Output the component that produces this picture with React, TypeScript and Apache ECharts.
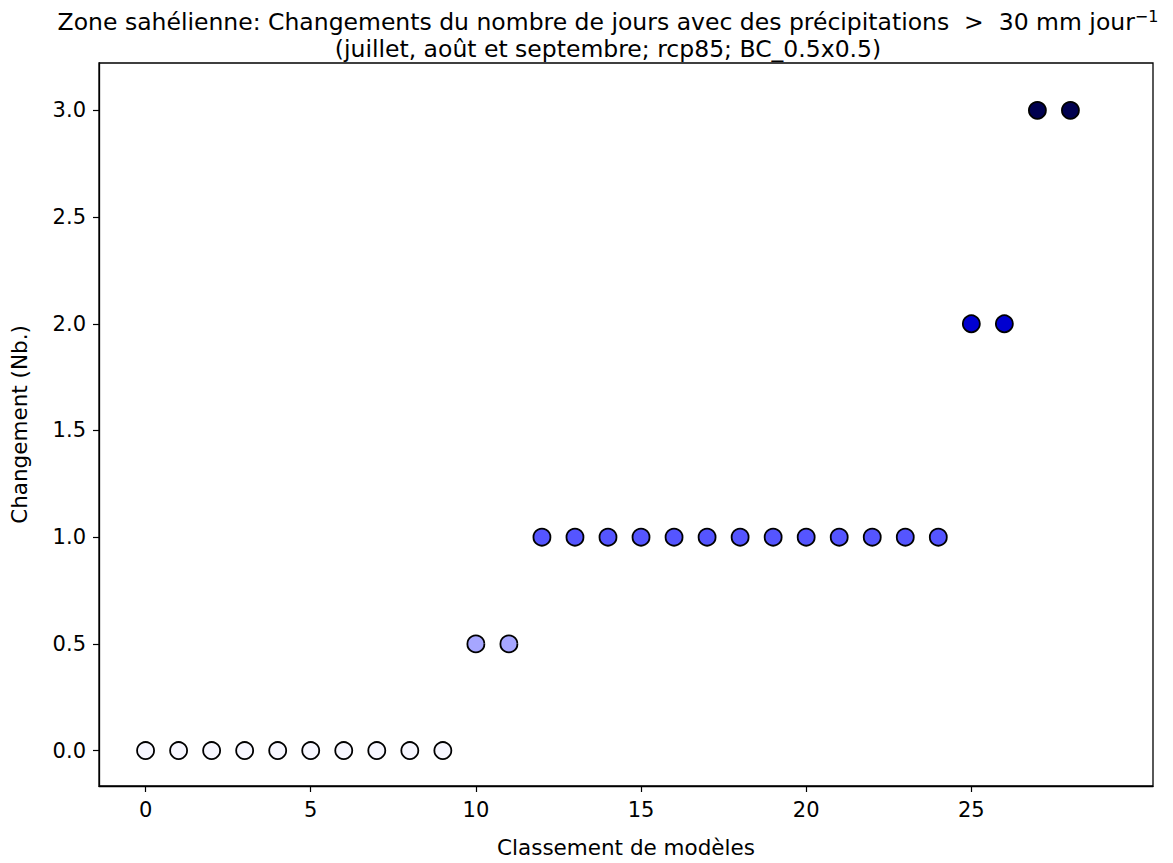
import React, { useEffect, useRef } from "react";
import * as echarts from "echarts";

const ranks = [0,1,2,3,4,5,6,7,8,9,10,11,12,13,14,15,16,17,18,19,20,21,22,23,24,25,26,27,28];
const changes = [0,0,0,0,0,0,0,0,0,0,0.5,0.5,1,1,1,1,1,1,1,1,1,1,1,1,1,2,2,3,3];
const xTicks = [0, 5, 10, 15, 20, 25];
const yTicks = [0, 0.5, 1, 1.5, 2, 2.5, 3];
const levelValues = [0, 0.5, 1, 2, 3];
const levelColors = ["#f7f7ff", "#a6a6ff", "#5555ff", "#0000d0", "#00004f"];

const colorFor = (v: number) => {
  const i = levelValues.indexOf(v);
  return i >= 0 ? levelColors[i] : "#ffffff";
};

export default function App() {
  const ref = useRef<HTMLDivElement>(null);
  useEffect(() => {
    if (!ref.current) return;
    const chart = echarts.init(ref.current, null, { renderer: "svg" });
    const font = "DejaVu Sans";
    const fs = 21;
    chart.setOption({
      animation: false,
      backgroundColor: "#ffffff",
      title: {
        text: "Zone sahélienne: Changements du nombre de jours avec des précipitations  >  30 mm jour{sup|−1}\n(juillet, août et septembre; rcp85; BC_0.5x0.5)",
        left: 603,
        top: 3,
        textAlign: "center",
        textStyle: {
          fontFamily: font,
          fontSize: 23.5,
          fontWeight: "normal",
          color: "#000",
          lineHeight: 27,
          rich: {
            sup: { fontFamily: font, fontSize: 16, lineHeight: 27, verticalAlign: "top", color: "#000" },
          },
        },
      },
      grid: {
        left: 92,
        top: 63,
        right: 20,
        bottom: 66,
        show: true,
        borderColor: "#000",
        borderWidth: 1.3,
        backgroundColor: "transparent",
      },
      xAxis: {
        type: "value",
        min: -1.41,
        max: 30.5,
        name: "Classement de modèles",
        nameLocation: "middle",
        nameGap: 50,
        nameTextStyle: { fontFamily: font, fontSize: 21.5, color: "#000" },
        splitLine: { show: false },
        axisLine: { show: true, onZero: false, lineStyle: { color: "#000", width: 1.3 } },
        axisTick: { show: true, length: 6, lineStyle: { color: "#000", width: 1.2 }, customValues: xTicks },
        axisLabel: {
          fontFamily: font,
          fontSize: fs,
          color: "#000",
          margin: 13,
          customValues: xTicks,
          formatter: (v: number) => String(v),
        },
      },
      yAxis: {
        type: "value",
        min: -0.166,
        max: 3.222,
        name: "Changement (Nb.)",
        nameLocation: "middle",
        nameGap: 69,
        nameTextStyle: { fontFamily: font, fontSize: 21.5, color: "#000" },
        splitLine: { show: false },
        axisLine: { show: true, onZero: false, lineStyle: { color: "#000", width: 1.3 } },
        axisTick: { show: true, length: 6, lineStyle: { color: "#000", width: 1.2 }, customValues: yTicks },
        axisLabel: {
          fontFamily: font,
          fontSize: fs,
          color: "#000",
          margin: 13,
          customValues: yTicks,
          formatter: (v: number) => v.toFixed(1),
        },
      },
      series: [
        {
          type: "scatter",
          symbol: "circle",
          symbolSize: 17,
          itemStyle: { opacity: 1 },
          emphasis: { disabled: true },
          data: ranks.map((r, i) => ({
            value: [r, changes[i]],
            itemStyle: { color: colorFor(changes[i]), borderColor: "#000", borderWidth: 1.8, opacity: 1 },
          })),
        },
      ],
    });
    return () => chart.dispose();
  }, []);
  return (
    <div
      ref={ref}
      style={{ position: "fixed", left: 0, top: 0, width: 1173, height: 863, background: "#fff" }}
    />
  );
}
